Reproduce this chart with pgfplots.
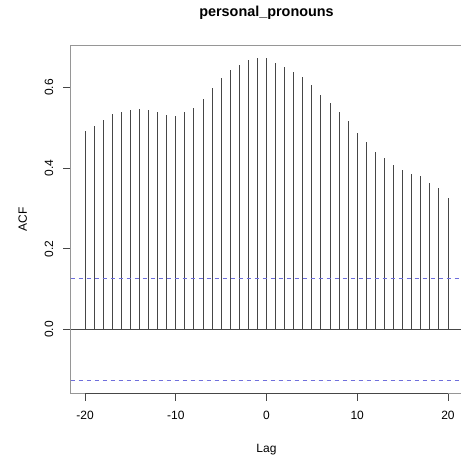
\documentclass[border=0pt]{standalone}
\usepackage{pgfplots}
\pgfplotsset{compat=1.18}
\usepackage{fontspec}
\setmainfont{Liberation Sans}
\definecolor{boxgray}{RGB}{150,150,150}
\definecolor{barcol}{RGB}{70,70,70}
\definecolor{ciblue}{RGB}{110,110,220}
\begin{document}
\begin{tikzpicture}
\begin{axis}[
  at={(70.5bp,63.5bp)}, anchor=south west,
  scale only axis, width=392bp, height=348.5bp,
  xmin=-21.6, xmax=21.6, ymin=-0.159, ymax=0.705,
  axis line style={boxgray, line width=0.9bp},
  xtick={-20,-10,0,10,20},
  ytick={0,0.2,0.4,0.6},
  yticklabels={0.0,0.2,0.4,0.6},
  xtick pos=bottom, ytick pos=left,
  tick align=outside, major tick length=7bp,
  tick style={barcol, line width=0.9bp},
  /pgf/number format/assume math mode=true,
  ticklabel style={font=\fontsize{12bp}{14bp}\selectfont},
  yticklabel style={xshift=-6bp, rotate=90, anchor=south, inner sep=4bp},
  xticklabel style={yshift=-6bp, inner sep=4bp},
  xlabel={Lag}, ylabel={ACF},
  label style={font=\fontsize{12bp}{14bp}\selectfont},
  xlabel style={at={(axis description cs:0.5,-0.162)}, anchor=center},
  ylabel style={at={(axis description cs:-0.122,0.5)}, anchor=center, rotate=0},
  title={\textbf{personal\_pronouns}},
  title style={at={(axis description cs:0.5,1.0749)}, anchor=center, font=\fontsize{14.4bp}{16bp}\selectfont},
  clip=false,
]
\addplot[ycomb, barcol, line width=0.9bp, no marks] coordinates {
(-20,0.493) (-19,0.503) (-18,0.519) (-17,0.533) (-16,0.539) (-15,0.545) (-14,0.546)
(-13,0.544) (-12,0.539) (-11,0.531) (-10,0.530) (-9,0.538) (-8,0.550) (-7,0.572)
(-6,0.598) (-5,0.622) (-4,0.642) (-3,0.655) (-2,0.667) (-1,0.673) (0,0.673)
(1,0.660) (2,0.651) (3,0.639) (4,0.625) (5,0.606) (6,0.582) (7,0.562) (8,0.540)
(9,0.516) (10,0.488) (11,0.465) (12,0.439) (13,0.424) (14,0.407) (15,0.394)
(16,0.386) (17,0.379) (18,0.364) (19,0.350) (20,0.325)
};
\addplot[barcol, line width=0.9bp] coordinates {(-21.6,0) (21.6,0)};
\addplot[ciblue, line width=0.9bp, dash pattern=on 4bp off 4bp] coordinates {(-21.6,0.127) (21.6,0.127)};
\addplot[ciblue, line width=0.9bp, dash pattern=on 4bp off 4bp] coordinates {(-21.6,-0.127) (21.6,-0.127)};
\addplot[barcol, line width=0.9bp] coordinates {(-20,-0.159) (20,-0.159)};
\end{axis}
\pgfresetboundingbox
\path[use as bounding box] (0,0) rectangle (461bp,457bp);
\end{tikzpicture}
\end{document}
